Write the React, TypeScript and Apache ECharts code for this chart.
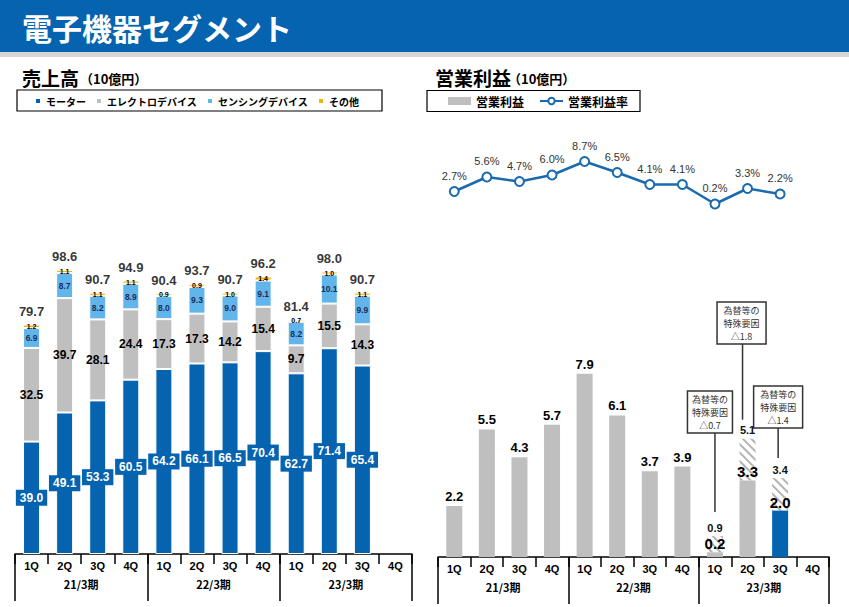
import React, { useEffect, useRef } from 'react';
import * as echarts from 'echarts';

// ---------- data ----------
const quarters = ['1Q', '2Q', '3Q', '4Q', '1Q', '2Q', '3Q', '4Q', '1Q', '2Q', '3Q', '4Q'];
const fiscalYears = ['21/3期', '22/3期', '23/3期'];

const motor = [39.0, 49.1, 53.3, 60.5, 64.2, 66.1, 66.5, 70.4, 62.7, 71.4, 65.4, null];
const electroDevice = [32.5, 39.7, 28.1, 24.4, 17.3, 17.3, 14.2, 15.4, 9.7, 15.5, 14.3, null];
const sensingDevice = [6.9, 8.7, 8.2, 8.9, 8.0, 9.3, 9.0, 9.1, 8.2, 10.1, 9.9, null];
const others = [1.2, 1.1, 1.1, 1.1, 0.9, 0.9, 1.0, 1.4, 0.7, 1.0, 1.1, null];
const salesTotal = [79.7, 98.6, 90.7, 94.9, 90.4, 93.7, 90.7, 96.2, 81.4, 98.0, 90.7, null];

const opProfitReported = [2.2, 5.5, 4.3, 5.7, 7.9, 6.1, 3.7, 3.9, 0.2, 3.3, null, null];
const opProfitLatest = [null, null, null, null, null, null, null, null, null, null, 2.0, null];
const specialFactor = [null, null, null, null, null, null, null, null, 0.7, 1.8, 1.4, null];
const opMargin = [2.7, 5.6, 4.7, 6.0, 8.7, 6.5, 4.1, 4.1, 0.2, 3.3, 2.2, null];

// ---------- styles ----------
const BLUE = '#0563B0';
const GRAY = '#BFBFBF';
const LBLUE = '#62B5EA';
const YELLOW = '#F7B500';
const LINEBLUE = '#1A6AAE';
const FONT = '"Liberation Sans", Arial, "Noto Sans CJK JP", sans-serif';
const JFONT = '"Noto Sans CJK JP", "Liberation Sans", sans-serif';

const fmt1 = (p: any) => (p.value == null ? '' : Number(p.value).toFixed(1));

const quarterAxis = (gridIndex: number) => ({
  type: 'category',
  gridIndex,
  data: quarters,
  position: 'bottom',
  boundaryGap: true,
  axisLine: { show: true, lineStyle: { color: '#000', width: 1.5 } },
  axisTick: { show: true, length: 10, lineStyle: { color: '#000', width: 1.5 } },
  axisLabel: { color: '#000', fontWeight: 'bold', fontSize: 11, margin: 6, interval: 0, fontFamily: FONT },
  splitLine: { show: false },
});
const yearAxis = (gridIndex: number) => ({
  type: 'category',
  gridIndex,
  data: fiscalYears,
  position: 'bottom',
  boundaryGap: true,
  axisLine: { show: false },
  axisTick: { show: true, length: 47, lineStyle: { color: '#000', width: 1.5 } },
  axisLabel: { color: '#000', fontWeight: 'bold', fontSize: 11, margin: 24, interval: 0, fontFamily: JFONT },
  splitLine: { show: false },
});

const segBorder = { borderColor: '#fff', borderWidth: 1 };

export default function App() {
  const ref = useRef<HTMLDivElement>(null);

  useEffect(() => {
    const chart = echarts.init(ref.current as HTMLDivElement, null, { renderer: 'svg' });

    const option: any = {
      animation: false,
      backgroundColor: '#fff',
      textStyle: { fontFamily: FONT },
      grid: [
        { left: 15, right: 437, top: 237, bottom: 53 },
        { left: 438, right: 20, top: 325, bottom: 50 },
        { left: 438, right: 20, top: 155, bottom: 402 },
      ],
      xAxis: [
        quarterAxis(0),
        yearAxis(0),
        quarterAxis(1),
        yearAxis(1),
        { type: 'category', gridIndex: 2, data: quarters, show: false, boundaryGap: true },
      ],
      yAxis: [
        { type: 'value', gridIndex: 0, min: 0, max: 110, show: false },
        { type: 'value', gridIndex: 1, min: 0, max: 10, show: false },
        { type: 'value', gridIndex: 2, min: 0, max: 10, show: false },
      ],
      legend: [
        {
          data: ['モーター', 'エレクトロデバイス', 'センシングデバイス', 'その他'],
          left: 34,
          top: 96,
          padding: 0,
          icon: 'rect',
          itemWidth: 6,
          itemHeight: 6,
          itemGap: 9,
          selectedMode: false,
          textStyle: { fontSize: 10, fontWeight: 'bold', color: '#000', fontFamily: JFONT },
        },
        {
          data: [
            { name: '営業利益', icon: 'rect' },
            { name: '営業利益率' },
          ],
          left: 448,
          top: 95,
          padding: 0,
          itemWidth: 23,
          itemHeight: 8,
          itemGap: 15,
          selectedMode: false,
          textStyle: { fontSize: 12, fontWeight: 'bold', color: '#000', fontFamily: JFONT },
        },
      ],
      series: [
        {
          name: 'モーター',
          type: 'bar',
          stack: 'sales',
          xAxisIndex: 0,
          yAxisIndex: 0,
          barWidth: 17,
          data: motor,
          itemStyle: { color: BLUE, ...segBorder },
          label: {
            show: true,
            position: 'inside',
            formatter: fmt1,
            color: '#fff',
            fontWeight: 'bold',
            fontSize: 12,
            backgroundColor: BLUE,
            padding: [2, 4],
          },
        },
        {
          name: 'エレクトロデバイス',
          type: 'bar',
          stack: 'sales',
          xAxisIndex: 0,
          yAxisIndex: 0,
          barWidth: 17,
          data: electroDevice,
          itemStyle: { color: GRAY, ...segBorder },
          label: { show: true, position: 'inside', formatter: fmt1, color: '#000', fontWeight: 'bold', fontSize: 12 },
        },
        {
          name: 'センシングデバイス',
          type: 'bar',
          stack: 'sales',
          xAxisIndex: 0,
          yAxisIndex: 0,
          barWidth: 17,
          data: sensingDevice,
          itemStyle: { color: LBLUE, ...segBorder },
          label: { show: true, position: 'inside', formatter: fmt1, color: '#1B2F5A', fontWeight: 'bold', fontSize: 8.5 },
        },
        {
          name: 'その他',
          type: 'bar',
          stack: 'sales',
          xAxisIndex: 0,
          yAxisIndex: 0,
          barWidth: 17,
          data: others,
          itemStyle: { color: YELLOW, ...segBorder },
          label: { show: true, position: 'inside', formatter: fmt1, color: '#000', fontWeight: 'bold', fontSize: 7 },
        },
        {
          name: '売上高合計',
          type: 'scatter',
          xAxisIndex: 0,
          yAxisIndex: 0,
          symbolSize: 1,
          data: salesTotal,
          itemStyle: { color: 'rgba(0,0,0,0)' },
          label: { show: true, position: 'top', distance: 6, formatter: fmt1, color: '#000', fontWeight: 'bold', fontSize: 13 },
          z: 5,
        },
        {
          name: '営業利益',
          type: 'bar',
          stack: 'op',
          xAxisIndex: 2,
          yAxisIndex: 1,
          barWidth: 16,
          data: opProfitReported.map((v, i) =>
            specialFactor[i] != null && v != null ? { value: v, label: { fontSize: 15, distance: 1 } } : v
          ),
          itemStyle: { color: GRAY },
          label: { show: true, position: 'top', distance: 3, formatter: fmt1, color: '#000', fontWeight: 'bold', fontSize: 13 },
          z: 3,
        },
        {
          name: '営業利益（当期）',
          type: 'bar',
          stack: 'op',
          xAxisIndex: 2,
          yAxisIndex: 1,
          barWidth: 16,
          data: opProfitLatest,
          itemStyle: { color: BLUE },
          label: { show: true, position: 'top', distance: 1, formatter: fmt1, color: '#000', fontWeight: 'bold', fontSize: 15 },
          z: 3,
        },
        {
          name: '特殊要因',
          type: 'bar',
          stack: 'op',
          xAxisIndex: 2,
          yAxisIndex: 1,
          barWidth: 16,
          data: specialFactor,
          itemStyle: {
            color: '#fff',
            decal: {
              symbol: 'rect',
              symbolSize: 1,
              color: '#B3B3B3',
              dashArrayX: [1, 0],
              dashArrayY: [2, 4],
              rotation: Math.PI / 4,
            },
          },
          label: {
            show: true,
            position: 'top',
            distance: 3,
            formatter: (p: any) => {
              const i = p.dataIndex;
              const base = (opProfitReported[i] ?? 0) + (opProfitLatest[i] ?? 0);
              return p.value == null ? '' : (base + Number(p.value)).toFixed(1);
            },
            color: '#111',
            fontWeight: 'bold',
            fontSize: 11,
          },
          z: 2,
        },
        {
          name: '営業利益率',
          type: 'line',
          xAxisIndex: 4,
          yAxisIndex: 2,
          data: opMargin,
          symbol: 'emptyCircle',
          symbolSize: 9,
          lineStyle: { color: LINEBLUE, width: 2.5 },
          itemStyle: { color: LINEBLUE, borderWidth: 2.5 },
          label: {
            show: true,
            position: 'top',
            distance: 5,
            formatter: (p: any) => Number(p.value).toFixed(1) + '%',
            color: '#333',
            fontSize: 11,
          },
        },
      ],
    };

    chart.setOption(option);

    // --- static graphics & annotations ---
    const graphics: any[] = [
      { type: 'rect', id: 'hdr', shape: { x: 0, y: 0, width: 849, height: 52 }, style: { fill: BLUE }, z: 0 },
      { type: 'rect', id: 'strip', shape: { x: 0, y: 52, width: 849, height: 5 }, style: { fill: '#D6D6D6' }, z: 0 },
      {
        type: 'text', id: 'hdrText', x: 22, y: 27,
        style: { text: '電子機器セグメント', fill: '#fff', font: `bold 30px ${JFONT}`, verticalAlign: 'middle', align: 'left' },
      },
      {
        type: 'text', id: 'lt1', x: 22, y: 77,
        style: { text: '売上高', fill: '#000', font: `bold 19px ${JFONT}`, verticalAlign: 'middle' },
      },
      {
        type: 'text', id: 'lt2', x: 80, y: 78,
        style: { text: '（10億円）', fill: '#000', font: `bold 13px ${JFONT}`, verticalAlign: 'middle' },
      },
      {
        type: 'text', id: 'rt1', x: 435, y: 77,
        style: { text: '営業利益', fill: '#000', font: `bold 19px ${JFONT}`, verticalAlign: 'middle' },
      },
      {
        type: 'text', id: 'rt2', x: 508, y: 78,
        style: { text: '（10億円）', fill: '#000', font: `bold 13px ${JFONT}`, verticalAlign: 'middle' },
      },
      {
        type: 'rect', id: 'lbox', shape: { x: 17, y: 90, width: 365, height: 21 },
        style: { fill: 'none', stroke: '#000', lineWidth: 1.2 },
      },
      {
        type: 'rect', id: 'rbox', shape: { x: 427, y: 90.5, width: 213, height: 21 },
        style: { fill: 'none', stroke: '#000', lineWidth: 1.2 },
      },
    ];

    const annLayout = [
      { boxTop: 391, boxW: 45, boxDx: -5, lineDx: 0, gap: 24 },
      { boxTop: 302, boxW: 49, boxDx: -6, lineDx: -5, gap: 19 },
      { boxTop: 386, boxW: 49, boxDx: -2, lineDx: -2, gap: 20 },
    ];
    let k = 0;
    specialFactor.forEach((sf, i) => {
      if (sf == null) return;
      const lay = annLayout[k];
      const base = (opProfitReported[i] ?? 0) + (opProfitLatest[i] ?? 0);
      const top = chart.convertToPixel({ xAxisIndex: 2, yAxisIndex: 1 } as any, [i, base + sf]) as number[];
      const cx = top[0];
      const boxH = 42;
      const bx = cx + lay.boxDx - lay.boxW / 2;
      graphics.push({
        type: 'line', id: 'annL' + k,
        shape: { x1: cx + lay.lineDx, y1: lay.boxTop + boxH, x2: cx + lay.lineDx, y2: top[1] - lay.gap },
        style: { stroke: '#333', lineWidth: 1.5 },
      });
      graphics.push({
        type: 'rect', id: 'annR' + k,
        shape: { x: bx, y: lay.boxTop, width: lay.boxW, height: boxH },
        style: { fill: '#fff', stroke: '#333', lineWidth: 1.5 },
      });
      const lines = ['為替等の', '特殊要因', `△${sf.toFixed(1)}`];
      lines.forEach((t, j) => {
        graphics.push({
          type: 'text', id: `annT${k}_${j}`,
          x: bx + lay.boxW / 2, y: lay.boxTop + 8 + j * 13,
          style: {
            text: t,
            fill: '#333',
            font: `9px ${JFONT}`,
            align: 'center',
            verticalAlign: 'middle',
          },
        });
      });
      k++;
    });

    chart.setOption({ graphic: graphics });

    return () => chart.dispose();
  }, []);

  return <div ref={ref} style={{ position: 'fixed', left: 0, top: 0, width: 849, height: 607 }} />;
}
